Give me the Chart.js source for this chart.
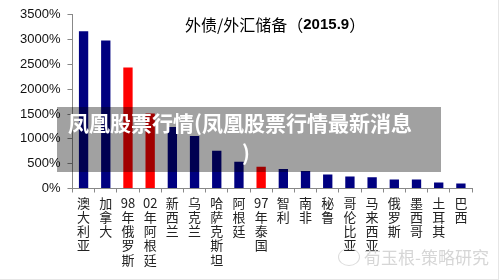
<!DOCTYPE html>
<html>
<head>
<meta charset="utf-8">
<script src="https://cdn.jsdelivr.net/npm/chart.js@4/dist/chart.umd.min.js"></script>
<style>
html,body{margin:0;padding:0;background:#fff;}
#wrap{position:relative;width:500px;height:280px;overflow:hidden;}
#c{position:absolute;left:0;top:0;}
#overlay{position:absolute;left:57px;top:107px;width:384px;height:65px;background:rgba(0,0,0,0.37);}
#ov1{position:absolute;left:68px;top:107px;font:bold 21px "Noto Sans CJK SC";color:#fff;white-space:nowrap;line-height:30px;}
#ov2{position:absolute;left:242px;top:137px;font:bold 21px "Noto Sans CJK SC";color:#fff;line-height:30px;}
#wm{position:absolute;left:338px;top:244px;font:17px "Noto Sans CJK SC";color:#d6d6d6;white-space:nowrap;}
#wm span.ic{display:inline-block;width:20px;height:16px;border:1.5px solid #dcdcdc;border-radius:50%;vertical-align:-2px;margin-right:4px;}
#fr{position:absolute;left:0;top:0;width:498px;height:279px;border-right:1px solid #e6e6e6;border-bottom:1px solid #e6e6e6;box-sizing:content-box;}
</style>
</head>
<body>
<div id="wrap">
<canvas id="c" width="500" height="280"></canvas>
<div id="fr"></div>
<div id="overlay"></div>
<div id="ov1">凤凰股票行情(凤凰股票行情最新消息</div>
<div id="ov2">)</div>
<div id="wm"><span class="ic"></span>荀玉根-策略研究</div>
</div>
<script>
const categories = ["澳大利亚","加拿大","98年俄罗斯","02年阿根廷","新西兰","乌克兰","哈萨克斯坦","阿根廷","97年泰国","智利","南非","秘鲁","哥伦比亚","马来西亚","俄罗斯","墨西哥","土耳其","巴西"];
const ratioValues = [3170,2980,2440,1510,1240,1060,760,540,440,394,354,280,240,226,180,180,120,100];
const crisisFlags = [0,0,1,1,0,0,0,0,1,0,0,0,0,0,0,0,0,0];
const yTicks = [0,500,1000,1500,2000,2500,3000,3500];
const titleParts = ["外债/外汇储备（","2015.9","）"];

function splitLabel(s){
  const m = s.match(/^(\d+)(.*)$/);
  if(m){ return [m[1]].concat(Array.from(m[2])); }
  return Array.from(s);
}

const titlePlugin = {
  id:'titleInside',
  afterDraw(chart){
    const ctx = chart.ctx;
    ctx.save();
    ctx.textBaseline='middle';
    ctx.fillStyle='#000';
    let x = 185, y = 25;
    const fonts = ['16px "Noto Sans CJK SC"','bold 15px "Liberation Sans"','16px "Noto Sans CJK SC"'];
    titleParts.forEach((t,i)=>{
      ctx.font = fonts[i];
      ctx.fillText(t,x,y);
      x += ctx.measureText(t).width;
    });
    ctx.restore();
  }
};

new Chart(document.getElementById('c'),{
  type:'bar',
  data:{
    labels: categories.map(splitLabel),
    datasets:[{
      data: ratioValues,
      backgroundColor: crisisFlags.map(f=>f?'#ff0000':'#000080'),
      barPercentage:0.42,
      categoryPercentage:1.0
    }]
  },
  options:{
    responsive:false,
    animation:false,
    devicePixelRatio:1,
    layout:{padding:{left:13,right:28,top:6,bottom:10}},
    plugins:{legend:{display:false},tooltip:{enabled:false},title:{display:false}},
    scales:{
      x:{
        grid:{drawOnChartArea:false,color:'#888',tickLength:4,offset:true},
        border:{color:'#888'},
        ticks:{color:'#222',font:{family:'"Noto Sans CJK SC"',size:13,lineHeight:1.1},maxRotation:0,autoSkip:false,padding:3}
      },
      y:{
        min:0,max:3500,
        afterBuildTicks(axis){ axis.ticks = yTicks.map(v=>({value:v})); },
        grid:{drawOnChartArea:false,color:'#888',tickLength:5},
        border:{color:'#888'},
        ticks:{color:'#111',font:{family:'"Liberation Sans"',size:13},padding:7,callback:v=>v+'%'}
      }
    }
  },
  plugins:[titlePlugin]
});
</script>
</body>
</html>
